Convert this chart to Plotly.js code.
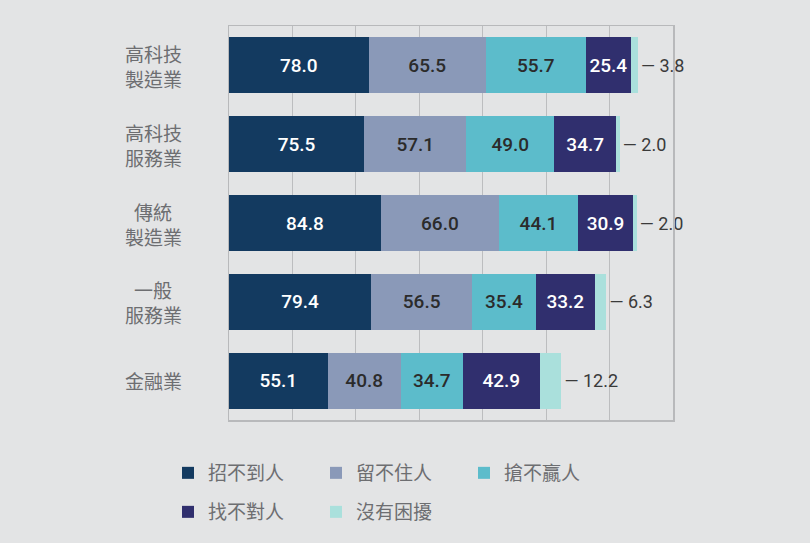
<!DOCTYPE html>
<html>
<head>
<meta charset="utf-8">
<script src="https://cdn.plot.ly/plotly-3.0.1.min.js"></script>
<style>
html,body{margin:0;padding:0;background:#e3e4e5;}
#chart{width:810px;height:543px;}
</style>
</head>
<body>
<div id="chart"></div>
<script>
const categories = ['高科技製造業','高科技服務業','傳統製造業','一般服務業','金融業'];
const categoryLabels = [['高科技','製造業'],['高科技','服務業'],['傳統','製造業'],['一般','服務業'],['金融業']];
const seriesNames = ['招不到人','留不住人','搶不贏人','找不對人','沒有困擾'];
const hireNone = [78.0, 75.5, 84.8, 79.4, 55.1];
const keepNone = [65.5, 57.1, 66.0, 56.5, 40.8];
const winNone = [55.7, 49.0, 44.1, 35.4, 34.7];
const matchNone = [25.4, 34.7, 30.9, 33.2, 42.9];
const noTrouble = [3.8, 2.0, 2.0, 6.3, 12.2];

const seriesValues = [hireNone, keepNone, winNone, matchNone, noTrouble];
const colors = ['#133a60','#8a99b8','#5cbccb','#302f6e','#aae0dc'];
const textColors = ['#ffffff','#2b2b2b','#2b2b2b','#ffffff','#3a3a3a'];

const traces = seriesValues.map((vals, i) => {
  const last = i === seriesValues.length - 1;
  return {
    type: 'bar',
    orientation: 'h',
    name: seriesNames[i],
    y: categories,
    x: vals,
    marker: {color: colors[i]},
    text: vals.map(v => v.toFixed(1)),
    texttemplate: last ? '— %{text}' : '%{text}',
    textposition: last ? 'outside' : 'inside',
    insidetextanchor: 'middle',
    insidetextfont: {family: 'Roboto', size: 19, color: textColors[i], weight: 500},
    outsidetextfont: {family: 'Roboto', size: 18, color: '#3a3a3a'},
    cliponaxis: false,
    hoverinfo: 'skip',
    legend: i < 3 ? 'legend' : 'legend2'
  };
});

const annotations = [];
categories.forEach((c, i) => {
  const lines = categoryLabels[i];
  lines.forEach((line, j) => {
    const shift = lines.length === 1 ? 0 : (j === 0 ? 12 : -13);
    annotations.push({
      xref: 'paper', yref: 'y', x: 0, y: c,
      xshift: -76, yshift: shift, xanchor: 'center', yanchor: 'middle',
      text: line, align: 'center', showarrow: false,
      font: {family: 'Noto Sans CJK TC', size: 19, color: '#6d6e71'}
    });
  });
});

const legendCommon = {
  orientation: 'h', xref: 'paper', yref: 'paper',
  xanchor: 'left', yanchor: 'middle',
  bgcolor: 'rgba(0,0,0,0)',
  font: {family: 'Noto Sans CJK TC', size: 19, color: '#6d6e71'},
  entrywidth: 103, entrywidthmode: 'pixels',
  traceorder: 'normal'
};

const layout = {
  width: 810, height: 543,
  paper_bgcolor: '#e3e4e5', plot_bgcolor: '#e3e4e5',
  margin: {l: 229, r: 137, t: 26, b: 123},
  barmode: 'stack', bargap: 0.29,
  showlegend: true,
  legend: Object.assign({}, legendCommon, {x: -0.1374, y: -0.1345}),
  legend2: Object.assign({}, legendCommon, {x: -0.1374, y: -0.2335}),
  xaxis: {
    range: [0, 248], dtick: 248/7, tick0: 0,
    showgrid: true, gridcolor: '#bcbdbf', gridwidth: 1,
    showticklabels: false, ticks: '', zeroline: false,
    showline: true, mirror: true, linecolor: '#b8b9bb', linewidth: 1.5,
    fixedrange: true
  },
  yaxis: {
    type: 'category', autorange: 'reversed',
    showticklabels: false, ticks: '', showgrid: false, zeroline: false,
    showline: true, mirror: true, linecolor: '#b8b9bb', linewidth: 1.5,
    fixedrange: true
  },
  annotations: annotations
};

Plotly.newPlot('chart', traces, layout, {displayModeBar: false, staticPlot: true});
</script>
</body>
</html>
